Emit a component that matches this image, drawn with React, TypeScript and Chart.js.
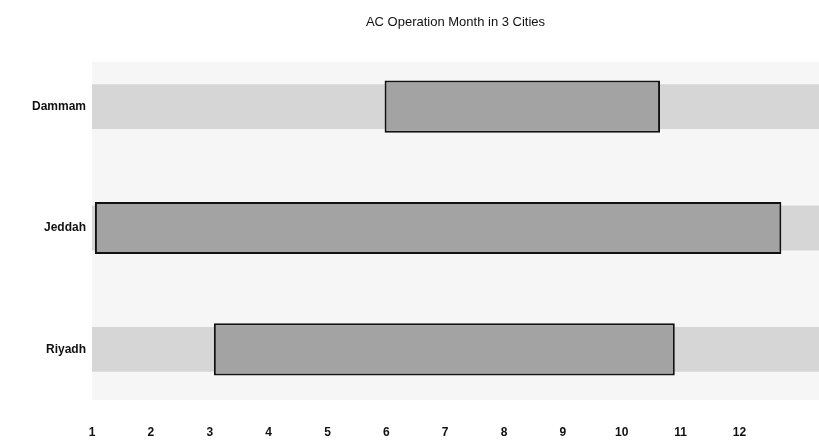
import React, { useEffect, useRef } from "react";
import { Chart, registerables } from "chart.js";

Chart.register(...registerables);

const cities = ["Dammam", "Jeddah", "Riyadh"];
const startMonth = [5.97, 1.05, 3.07];
const endMonth = [10.65, 12.71, 10.9];
const bandStart = [1, 1, 1];
const bandEnd = [13.35, 13.35, 13.35];
const monthTicks = [1, 2, 3, 4, 5, 6, 7, 8, 9, 10, 11, 12];
const titleText = "AC Operation Month in 3 Cities";

const bgPlugin = {
  id: "bgAndTitle",
  beforeDraw(chart: any) {
    const { ctx, chartArea } = chart;
    ctx.save();
    ctx.fillStyle = "#f6f6f6";
    ctx.fillRect(chartArea.left, chartArea.top + 16, chartArea.right - chartArea.left, chartArea.bottom - chartArea.top - 26);
    ctx.fillStyle = "#111";
    ctx.font = "13px 'Liberation Sans', Arial, sans-serif";
    ctx.textAlign = "center";
    ctx.textBaseline = "middle";
    ctx.fillText(titleText, (chartArea.left + chartArea.right) / 2, 22);
    ctx.restore();
  },
};

export default function App() {
  const ref = useRef<HTMLCanvasElement | null>(null);
  useEffect(() => {
    if (!ref.current) return;
    const chart = new Chart(ref.current, {
      type: "bar",
      data: {
        labels: cities,
        datasets: [
          {
            label: "Operation",
            data: cities.map((_, i) => [startMonth[i], endMonth[i]]),
            backgroundColor: "#a3a3a3",
            borderColor: "#111",
            borderWidth: 2,
            borderSkipped: false,
            barPercentage: 0.43,
            categoryPercentage: 1,
            grouped: false,
            order: 1,
          },
          {
            label: "Band",
            data: cities.map((_, i) => [bandStart[i], bandEnd[i]]),
            backgroundColor: "#d6d6d6",
            borderWidth: 0,
            barPercentage: 0.37,
            categoryPercentage: 1,
            grouped: false,
            order: 2,
          },
        ] as any,
      },
      options: {
        indexAxis: "y",
        animation: false,
        responsive: true,
        maintainAspectRatio: false,
        layout: { padding: { top: 46, right: 0, left: 0, bottom: 0 } },
        plugins: {
          legend: { display: false },
          title: { display: false },
          tooltip: { enabled: false },
        },
        scales: {
          x: {
            type: "linear",
            min: 1,
            max: 13.35,
            afterBuildTicks: (axis: any) => {
              axis.ticks = monthTicks.map((v) => ({ value: v }));
            },
            afterFit: (axis: any) => {
              axis.height = 32;
            },
            grid: { display: false, drawTicks: false },
            border: { display: false },
            ticks: {
              padding: 15,
              color: "#111",
              font: { family: "'Liberation Sans', Arial, sans-serif", size: 12, weight: "bold" },
              callback: (v: any) => String(v),
            },
          },
          y: {
            type: "category",
            afterFit: (axis: any) => {
              axis.width = 92;
            },
            grid: { display: false, drawTicks: false },
            border: { display: false },
            ticks: {
              padding: 6,
              color: "#111",
              font: { family: "'Liberation Sans', Arial, sans-serif", size: 12, weight: "bold" },
            },
          },
        },
      },
      plugins: [bgPlugin],
    } as any);
    return () => chart.destroy();
  }, []);
  return (
    <div style={{ position: "fixed", left: 0, top: 0, width: 819, height: 442, background: "#fff" }}>
      <canvas ref={ref} />
    </div>
  );
}
